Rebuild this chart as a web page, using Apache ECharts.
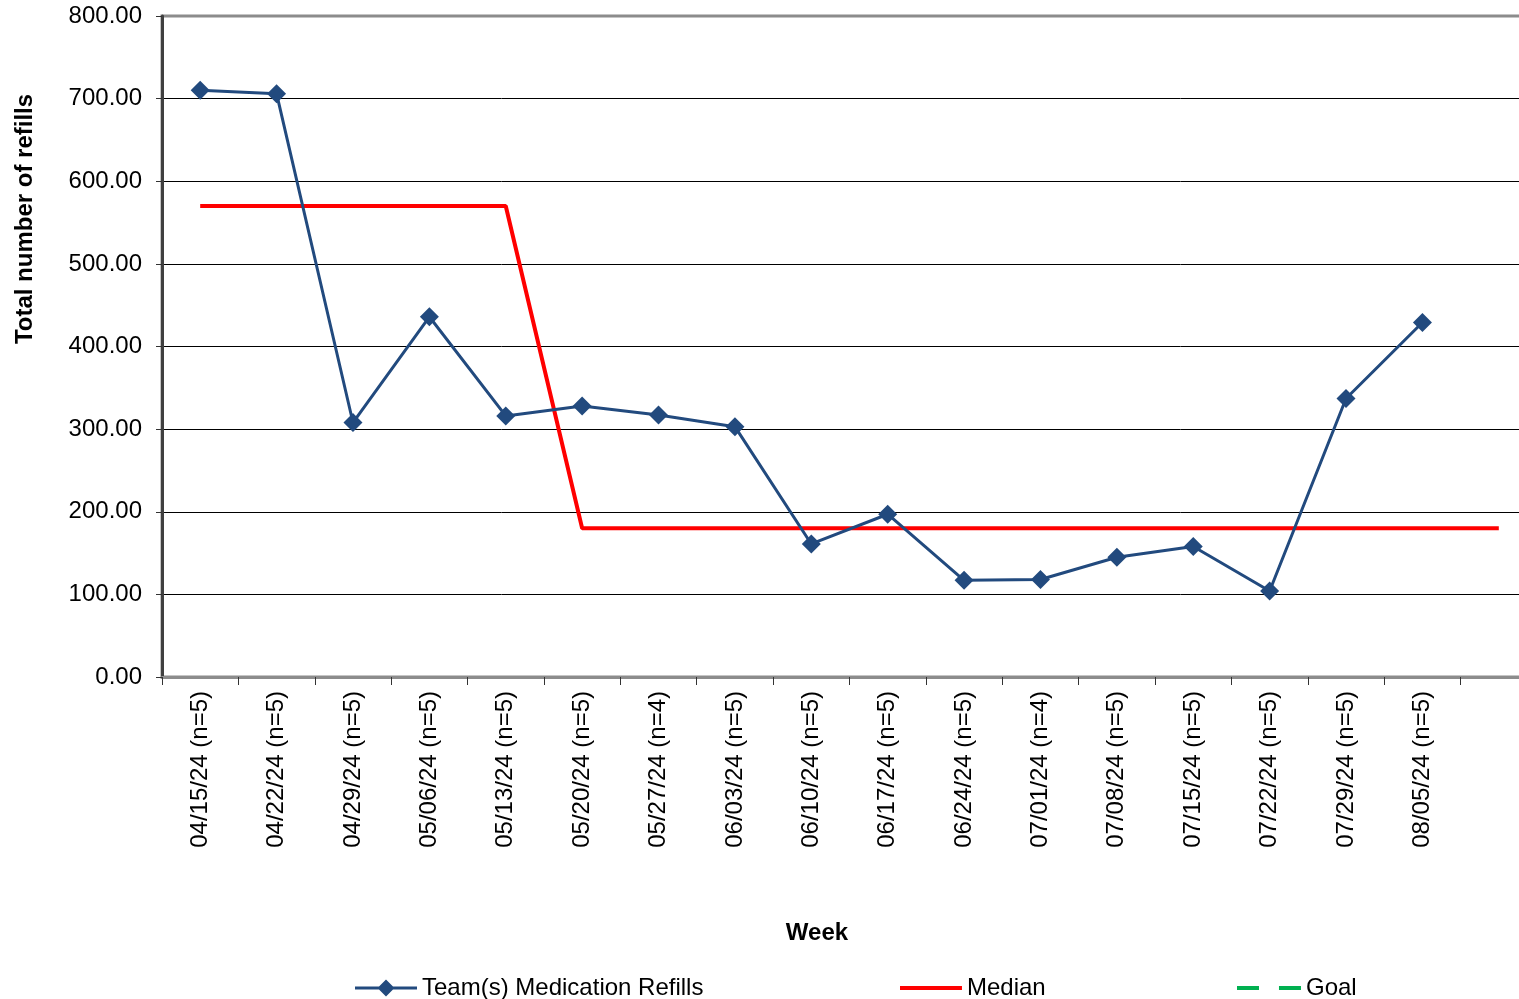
<!DOCTYPE html>
<html>
<head>
<meta charset="utf-8">
<script src="https://cdn.jsdelivr.net/npm/echarts@6/dist/echarts.min.js"></script>
<style>html,body{margin:0;padding:0;background:#fff;overflow:hidden;}#c{width:1519px;height:999px;}</style>
</head>
<body>
<div id="c"></div>
<script>
var weeks = ['04/15/24 (n=5)','04/22/24 (n=5)','04/29/24 (n=5)','05/06/24 (n=5)','05/13/24 (n=5)','05/20/24 (n=5)','05/27/24 (n=4)','06/03/24 (n=5)','06/10/24 (n=5)','06/17/24 (n=5)','06/24/24 (n=5)','07/01/24 (n=4)','07/08/24 (n=5)','07/15/24 (n=5)','07/22/24 (n=5)','07/29/24 (n=5)','08/05/24 (n=5)',''];
var refills = [710, 706, 308, 436, 316, 328, 317, 303, 161, 197, 117, 118, 145, 158, 104, 337, 429];
var median = [570, 570, 570, 570, 570, 180, 180, 180, 180, 180, 180, 180, 180, 180, 180, 180, 180, 180];
var goal = [];
var yTicks = [0, 100, 200, 300, 400, 500, 600, 700, 800];

var FONT = 'Liberation Sans, Arial, sans-serif';
var chart = echarts.init(document.getElementById('c'), null, {renderer: 'canvas'});
var splitColors = yTicks.map(function (v, i) { return i === yTicks.length - 1 ? '#8c8c8c' : '#000'; });
var legendText = {fontSize: 24, color: '#000', fontFamily: FONT};
var LEG_TOP = 976;
chart.setOption({
  animation: false,
  backgroundColor: '#fff',
  grid: {left: 162, top: 16, bottom: 322, width: 1375, outerBoundsMode: 'none', containLabel: false, show: true, borderColor: '#8c8c8c', borderWidth: 3, backgroundColor: 'transparent'},
  xAxis: {
    type: 'category',
    data: weeks,
    boundaryGap: true,
    axisLine: {lineStyle: {color: '#8c8c8c', width: 3}},
    axisTick: {show: true, length: 8, lineStyle: {color: '#333', width: 1}},
    axisLabel: {rotate: 90, interval: 0, fontSize: 24, color: '#000', fontFamily: FONT, margin: 14}
  },
  yAxis: {
    type: 'value',
    min: 0, max: 800, interval: 100,
    axisLine: {show: true, lineStyle: {color: '#404040', width: 3}},
    axisTick: {show: true, length: 6, lineStyle: {color: '#333'}},
    axisLabel: {fontSize: 24, color: '#000', fontFamily: FONT, margin: 20, formatter: function (v) { return v.toFixed(2); }},
    splitLine: {show: true, lineStyle: {color: splitColors, width: 1}}
  },
  legend: [
    {left: 355, top: LEG_TOP, padding: 0, itemWidth: 62, itemHeight: 17, itemGap: 0, textStyle: legendText, data: [{name: 'Team(s) Medication Refills', icon: 'path://M0,7L24,7L31,0L38,7L62,7L62,10L38,10L31,17L24,10L0,10Z'}]},
    {left: 900, top: LEG_TOP, padding: 0, itemWidth: 62, itemHeight: 17, textStyle: legendText, data: [{name: 'Median', icon: 'path://M0,0L62,0L62,0.01Z M0,6.5L62,6.5L62,10.5L0,10.5Z M0,17L62,17L62,17.01Z'}]},
    {left: 1237, top: LEG_TOP, padding: 0, itemWidth: 64, itemHeight: 17, textStyle: legendText, data: [{name: 'Goal', icon: 'path://M0,0L64,0L64,0.01Z M0,6.5L22,6.5L22,10.5L0,10.5Z M42,6.5L64,6.5L64,10.5L42,10.5Z M0,17L64,17L64,17.01Z'}]}
  ],
  graphic: [
    {type: 'text', x: 25, y: 219, rotation: Math.PI / 2, style: {text: 'Total number of refills', font: 'bold 24px ' + FONT, fill: '#000', textAlign: 'center', textVerticalAlign: 'middle'}},
    {type: 'text', x: 817, y: 933, style: {text: 'Week', font: 'bold 24px ' + FONT, fill: '#000', textAlign: 'center', textVerticalAlign: 'middle'}}
  ],
  series: [
    {name: 'Team(s) Medication Refills', type: 'line', data: refills, symbol: 'diamond', symbolSize: 19,
     itemStyle: {color: '#224a7e'}, lineStyle: {color: '#224a7e', width: 3}, z: 3},
    {name: 'Median', type: 'line', data: median, symbol: 'none', lineStyle: {color: '#ff0000', width: 4}, itemStyle: {color: '#ff0000'}, z: 2},
    {name: 'Goal', type: 'line', data: goal, symbol: 'none', lineStyle: {color: '#00b050', width: 4, type: [14, 14]}, itemStyle: {color: '#00b050'}}
  ]
});
</script>
</body>
</html>
